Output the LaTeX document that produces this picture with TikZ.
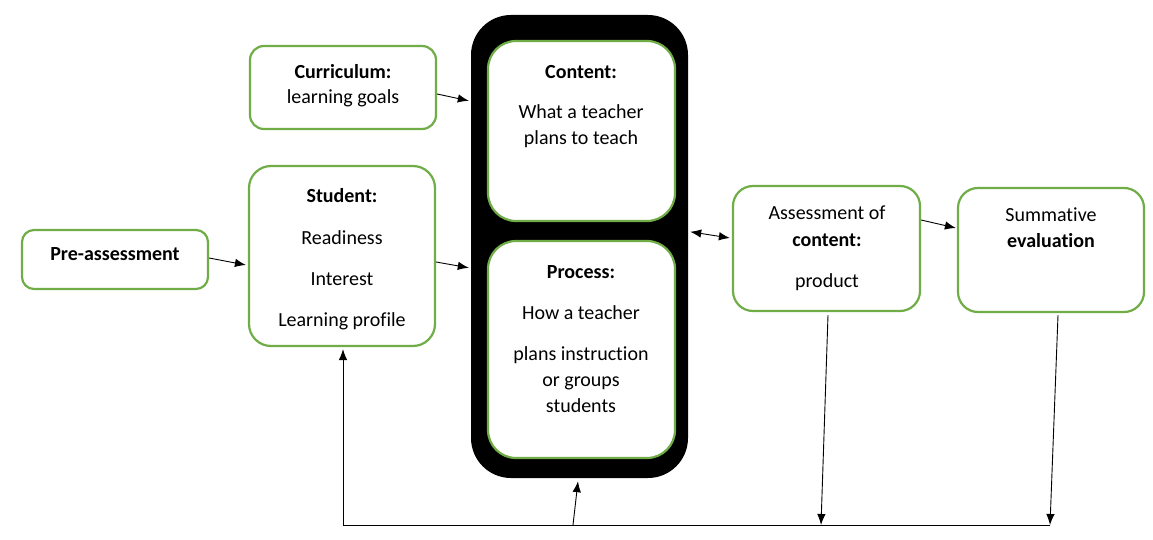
\documentclass[tikz,border=0pt]{standalone}
\usepackage{fontspec}
\setmainfont{Carlito}[Ligatures=NoCommon]
\usetikzlibrary{arrows.meta,calc}
\definecolor{grn}{RGB}{112,173,71}
\tikzset{
  box/.style={draw=grn, line width=2.2pt, fill=white, rounded corners=#1, inner sep=0pt},
  box/.default=14pt,
  txt/.style={font=\fontsize{20}{24}\selectfont, text height=14pt, text depth=5pt, inner sep=0pt, yshift=-2pt},
  conn/.style={line width=0.9pt, -{Latex[length=11pt,width=8.5pt]}},
  dconn/.style={line width=0.9pt, {Latex[length=11pt,width=8.5pt]}-{Latex[length=11pt,width=8.5pt]}},
  plain/.style={line width=0.9pt},
}
\begin{document}
\begin{tikzpicture}[x=1pt,y=-1pt]
\useasboundingbox (0,0) rectangle (1153,540);
% black frame
\node[fill=black, rounded corners=40pt, minimum width=217pt, minimum height=463pt, inner sep=0pt] (blk) at (579.5,246.5) {};
% boxes
\node[box=12pt, minimum width=186pt, minimum height=59pt] (pre) at (115,259.5) {};
\node[box=14pt, minimum width=186pt, minimum height=83pt] (cur) at (343,87.5) {};
\node[box=22pt, minimum width=186pt, minimum height=180pt] (stu) at (342,256) {};
\node[box=28pt, minimum width=187pt, minimum height=180pt] (con) at (581.5,131) {};
\node[box=28pt, minimum width=187pt, minimum height=217pt] (pro) at (581.5,349.5) {};
\node[box=20pt, minimum width=187pt, minimum height=125pt] (ass) at (826.5,248.5) {};
\node[box=20pt, minimum width=186pt, minimum height=124pt] (sum) at (1051,250) {};
% texts
\node[txt] (t1) at (115,254) {\textbf{Pre-assessment}};
\node[txt] (t2) at (343,72) {\textbf{Curriculum:}};
\node[txt] (t3) at (343,97) {learning goals};
\node[txt] (t4) at (342,196) {\textbf{Student:}};
\node[txt] (t5) at (342,238) {Readiness};
\node[txt] (t6) at (342,279) {Interest};
\node[txt] (t7) at (342,320) {Learning profile};
\node[txt] (t8) at (581,72) {\textbf{Content:}};
\node[txt] (t9) at (581,112) {What a teacher};
\node[txt] (t10) at (581,138) {plans to teach};
\node[txt] (t11) at (581,272) {\textbf{Process:}};
\node[txt] (t12) at (581,313) {How a teacher};
\node[txt] (t13) at (581,354) {plans instruction};
\node[txt] (t14) at (581,380) {or groups};
\node[txt] (t15) at (581,406) {students};
\node[txt] (t16) at (827,213) {Assessment of};
\node[txt] (t17) at (827,240) {\textbf{content:}};
\node[txt] (t18) at (827,281) {product};
\node[txt] (t19) at (1051,215) {Summative};
\node[txt] (t20) at (1051,241) {\textbf{evaluation}};
% connectors
\draw[conn] ([yshift=1.5pt]pre.east) -- ([xshift=-2pt,yshift=-9pt]stu.west);
\draw[conn] ([yshift=-6.5pt]cur.east) -- ($(blk.north west)+(-2,86)$);
\draw[conn] ([yshift=-6pt]stu.east) -- ($(blk.north west)+(-2,253)$);
\draw[dconn] ($(blk.north east)+(2,217)$) -- ([xshift=-2pt,yshift=10.5pt]ass.west);
\draw[conn] ([yshift=28.5pt]ass.east) -- ([xshift=-1pt,yshift=22pt]sum.west);
\coordinate (bl) at (343,525);
\coordinate (bm) at (573,525);
\coordinate (ba) at (821,525);
\coordinate (br) at (1050,525);
\draw[plain] (bl) -- (br);
\draw[conn] (bl) -- ($(bl |- stu.south)+(0,2)$);
\draw[conn] (bm) -- ($(blk.south)+(-1.5,3)$);
\draw[conn] ($(ass.south)+(1.5,3)$) -- (ba);
\draw[conn] ($(sum.south)+(7,2)$) -- (br);
\end{tikzpicture}
\end{document}
